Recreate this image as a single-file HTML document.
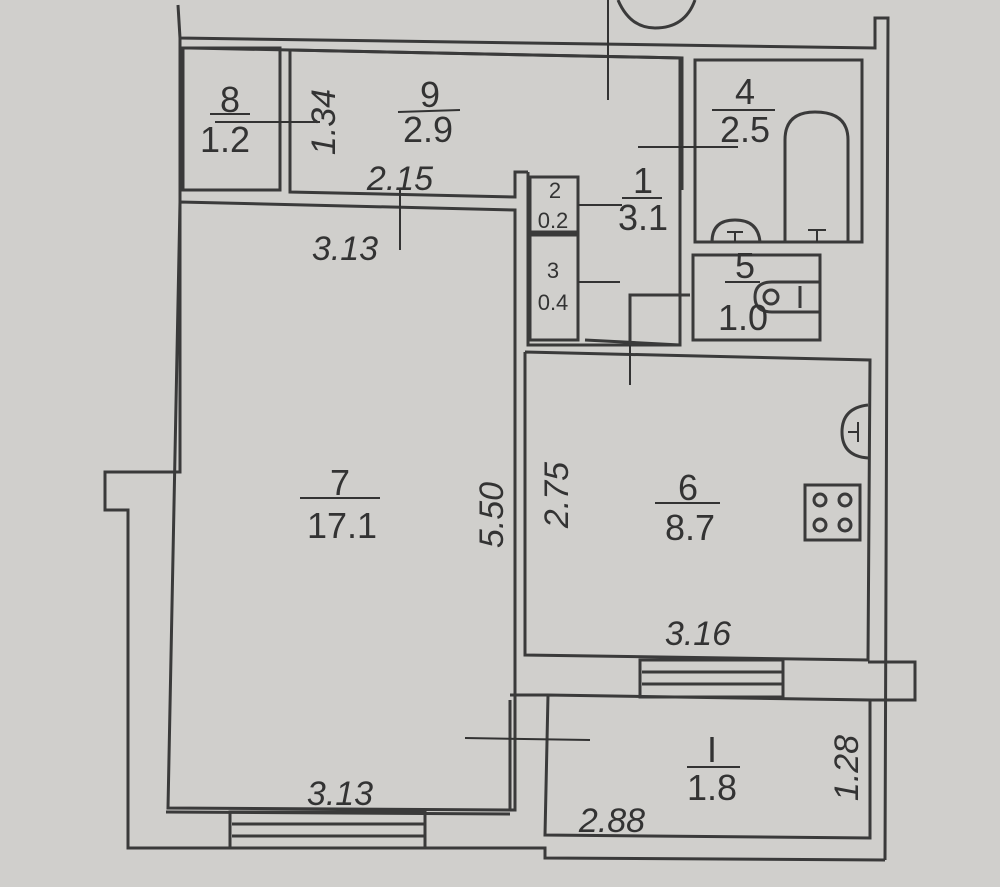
<!DOCTYPE html>
<html><head><style>
html,body{margin:0;padding:0;background:#d0cfcc;}
svg{display:block}
text{font-family:"Liberation Sans",sans-serif;fill:#333;}
</style></head><body>
<svg width="1000" height="887" viewBox="0 0 1000 887" xmlns="http://www.w3.org/2000/svg">
<rect width="1000" height="887" fill="#d0cfcc"/>
<g stroke="#3a3a3a" stroke-width="3" fill="none">
<polyline points="178,5 180,38 875,48 875,18 888,18 885,860"/>
<line x1="190" y1="48" x2="682" y2="58"/>
<polyline points="180,38 180,472 105,472 105,510 128,510 128,848 545,848 545,858 885,860"/>
<rect x="183" y="48" width="97" height="142"/>
<polyline points="290,50 682,58 682,190"/>
<polyline points="290,50 290,192 515,197 515,172 528,172"/>
<polyline points="180,202 515,210 515,810 168,808 180,202"/>
<line x1="166" y1="812" x2="510" y2="814"/>
<polyline points="528,172 528,345 680,345 680,58"/>
<rect x="530" y="177" width="48" height="55"/>
<rect x="530" y="235" width="48" height="105"/>
<rect x="695" y="60" width="167" height="182"/>
<path d="M785,242 L785,140 Q785,112 815,112 Q848,112 848,140 L848,242"/>
<path d="M712,242 Q712,220 735,220 Q758,220 760,242"/>
<rect x="693" y="255" width="127" height="85"/>
<path d="M820,282 L772,282 Q755,282 755,297 Q755,312 772,312 L820,312"/>
<circle cx="771" cy="297" r="7"/>
<line x1="800" y1="286" x2="800" y2="308"/>
<line x1="585" y1="340" x2="680" y2="345"/>
<polyline points="630,345 630,295 690,295"/>
<polyline points="525,352 870,360 868,660 525,655 525,352"/>
<path d="M868,405 Q842,408 842,432 Q842,456 868,458"/>
<rect x="805" y="485" width="55" height="55"/>
<circle cx="820" cy="500" r="6"/><circle cx="845" cy="500" r="6"/>
<circle cx="820" cy="525" r="6"/><circle cx="845" cy="525" r="6"/>
<rect x="640" y="660" width="143" height="37"/>
<line x1="642" y1="672" x2="782" y2="672"/>
<line x1="642" y1="684" x2="782" y2="684"/>
<polyline points="868,662 915,662 915,700 870,700"/>
<polyline points="548,695 870,700 870,838 545,835 548,695"/>
<line x1="510" y1="695" x2="548" y2="695"/>
<line x1="510" y1="700" x2="510" y2="810"/>
<rect x="230" y="812" width="195" height="36"/>
<line x1="232" y1="824" x2="424" y2="824"/>
<line x1="232" y1="836" x2="424" y2="836"/>
<path d="M618,0 Q630,28 655,28 Q685,28 695,0"/>
</g>
<g stroke="#333" stroke-width="2">
<line x1="608" y1="0" x2="608" y2="100"/>
<line x1="400" y1="190" x2="400" y2="250"/>
<line x1="215" y1="122" x2="320" y2="122"/>
<line x1="638" y1="147" x2="738" y2="147"/>
<line x1="578" y1="205" x2="622" y2="205"/>
<line x1="578" y1="282" x2="620" y2="282"/>
<line x1="630" y1="345" x2="630" y2="385"/>
<line x1="465" y1="738" x2="590" y2="740"/>
<line x1="398" y1="112" x2="460" y2="110"/>
<line x1="210" y1="114" x2="250" y2="114"/>
<line x1="712" y1="110" x2="775" y2="110"/>
<line x1="622" y1="198" x2="662" y2="198"/>
<line x1="300" y1="498" x2="380" y2="498"/>
<line x1="655" y1="503" x2="720" y2="503"/>
<line x1="687" y1="767" x2="740" y2="767"/>
<line x1="725" y1="282" x2="760" y2="282"/>
<line x1="727" y1="232" x2="743" y2="232"/><line x1="735" y1="232" x2="735" y2="242"/>
<line x1="808" y1="230" x2="826" y2="230"/><line x1="817" y1="230" x2="817" y2="242"/>
<line x1="858" y1="422" x2="858" y2="442"/><line x1="848" y1="432" x2="858" y2="432"/>
</g>
<g font-size="36" text-anchor="middle">
<text x="230" y="112">8</text><text x="225" y="152">1.2</text>
<text x="430" y="107">9</text><text x="428" y="142">2.9</text>
<text x="745" y="104">4</text><text x="745" y="142">2.5</text>
<text x="643" y="193">1</text><text x="643" y="230">3.1</text>
<text x="340" y="495">7</text><text x="342" y="538">17.1</text>
<text x="688" y="500">6</text><text x="690" y="540">8.7</text>
<text x="712" y="762">I</text><text x="712" y="800">1.8</text>
<text x="745" y="278">5</text><text x="743" y="330">1.0</text>
</g>
<g font-size="22" text-anchor="middle">
<text x="555" y="198">2</text><text x="553" y="228">0.2</text>
<text x="553" y="278">3</text><text x="553" y="310">0.4</text>
</g>
<g font-size="34" font-style="italic" text-anchor="middle">
<text x="345" y="260">3.13</text>
<text x="400" y="190">2.15</text>
<text x="340" y="805">3.13</text>
<text x="698" y="645">3.16</text>
<text x="612" y="832">2.88</text>
<text transform="translate(335,122) rotate(-90)">1.34</text>
<text transform="translate(503,515) rotate(-90)">5.50</text>
<text transform="translate(568,495) rotate(-90)">2.75</text>
<text transform="translate(858,768) rotate(-90)">1.28</text>
</g>
</svg>
</body></html>
